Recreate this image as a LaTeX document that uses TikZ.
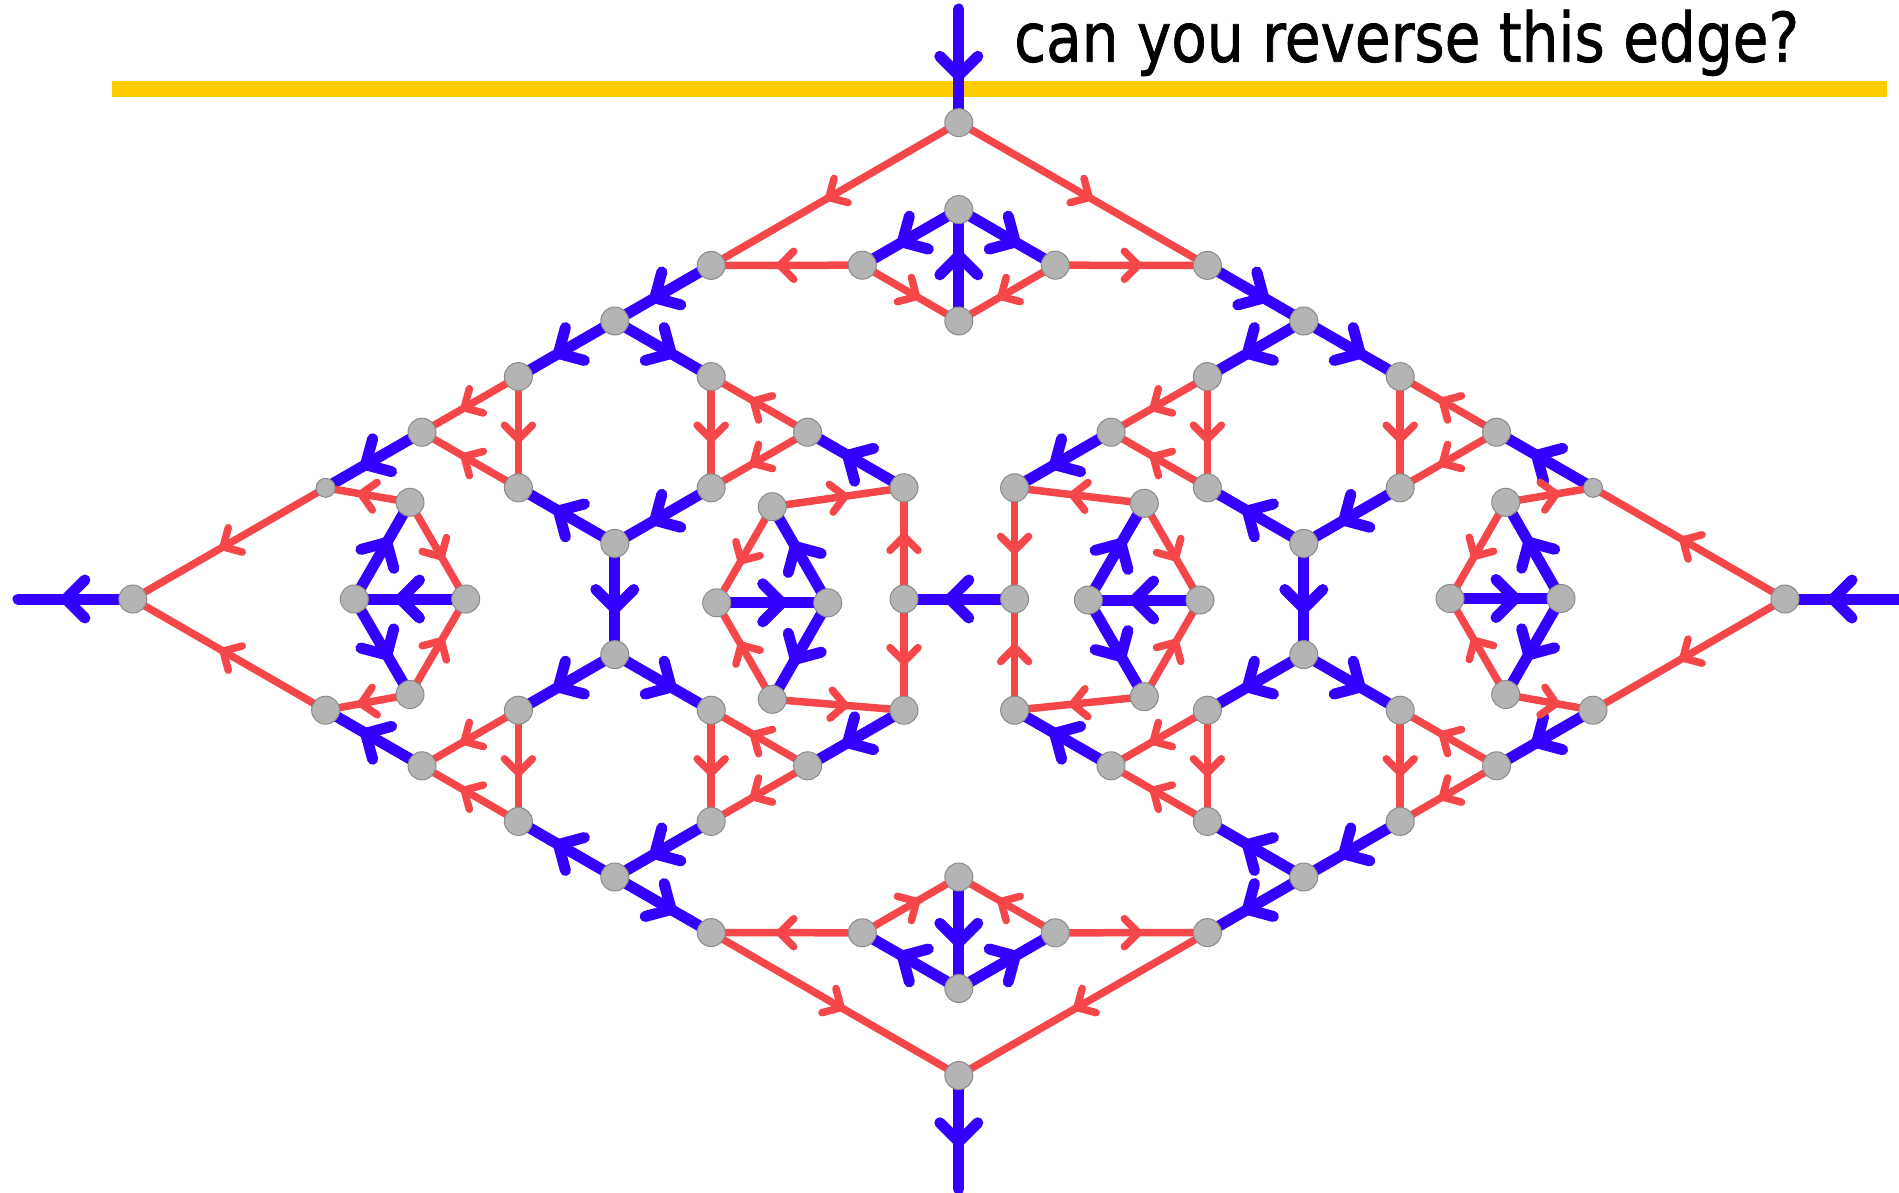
\documentclass[tikz,border=0pt]{standalone}
\usepackage{fontspec}
\usepackage{graphicx}
\newfontfamily\comicfont[FakeBold=1.2]{DejaVu Sans}
\usetikzlibrary{decorations.markings}
\pgfdeclarelayer{bg}
\pgfsetlayers{bg,main}
\definecolor{myblue}{RGB}{51,0,255}
\definecolor{myred}{RGB}{245,71,74}
\definecolor{baryellow}{RGB}{255,204,0}
\definecolor{nodegray}{RGB}{180,180,180}
\definecolor{nodeedge}{RGB}{138,138,138}
\tikzset{
  v/.style={circle, fill=nodegray, draw=nodeedge, line width=1pt, minimum size=28pt, inner sep=0pt},
  vs/.style={v, minimum size=19pt},
  be/.style={draw=myblue, line width=11pt, line cap=round, postaction={decorate},
    decoration={markings, mark=at position 0.5 with {\draw[myblue, line width=11pt, line cap=round, line join=round] (-9.5,19) -- (9.5,0) -- (-9.5,-19);}}},
  re/.style={draw=myred, line width=7.5pt, line cap=round, postaction={decorate},
    decoration={markings, mark=at position 0.5 with {\draw[myred, line width=7.5pt, line cap=round, line join=round] (-7,14) -- (7,0) -- (-7,-14);}}},
}
\begin{document}
\begin{tikzpicture}[x=1pt,y=-1pt]
\useasboundingbox (0,0) rectangle (1899,1192);
% ---- centre column ----
\node[v] (T0) at (958.8,122.6) {};
\node[v] (T1) at (958.8,209.6) {};
\node[v] (TL) at (862.3,265.2) {};
\node[v] (TR) at (1055.3,265.2) {};
\node[v] (TB) at (958.8,321) {};
\node[v] (QT) at (958.8,877) {};
\node[v] (QL) at (862.3,932.8) {};
\node[v] (QR) at (1055.3,932.8) {};
\node[v] (QB) at (958.8,988.5) {};
\node[v] (B0) at (958.8,1075.5) {};
\coordinate (eT) at (958.8,9);
\coordinate (eB) at (958.8,1189);
\coordinate (eL) at (18,599);
\coordinate (eR) at (1900,599);
% ---- left half ----
\node[v] (AL) at (711.2,265.4) {};
\node[v] (BL) at (614.8,321) {};
\node[v] (CL) at (711.2,376.6) {};
\node[v] (DL) at (807.6,432.2) {};
\node[v] (FL) at (904,487.8) {};
\node[v] (EL) at (711.2,487.8) {};
\node[v] (GL) at (614.8,543.4) {};
\node[v] (IL) at (518.4,376.6) {};
\node[v] (JL) at (422,432.2) {};
\node[v] (KL) at (518.4,487.8) {};
\node[vs] (SL) at (325.6,487.8) {};
\node[v] (OL) at (132.8,599) {};
\node[v] (F2) at (904,599) {};
\node[v] (ALp) at (711.2,932.6) {};
\node[v] (BLp) at (614.8,877) {};
\node[v] (CLp) at (711.2,821.4) {};
\node[v] (DLp) at (807.6,765.8) {};
\node[v] (FLp) at (904,710.2) {};
\node[v] (ELp) at (711.2,710.2) {};
\node[v] (GLp) at (614.8,654.6) {};
\node[v] (ILp) at (518.4,821.4) {};
\node[v] (JLp) at (422,765.8) {};
\node[v] (KLp) at (518.4,710.2) {};
\node[v] (SLp) at (325.6,710.2) {};
\node[v] (LT) at (410,502.3) {};
\node[v] (LLf) at (354.3,599) {};
\node[v] (LRt) at (465.7,599) {};
\node[v] (LB) at (410,694.5) {};
\node[v] (HT) at (772.3,506.7) {};
\node[v] (HL) at (716.7,602.8) {};
\node[v] (HR) at (827.7,602.8) {};
\node[v] (HB) at (772.3,699.3) {};
% ---- right half ----
\node[v] (AR) at (1207.4,265.4) {};
\node[v] (BR) at (1303.8,321) {};
\node[v] (CR) at (1207.4,376.6) {};
\node[v] (DR) at (1111,432.2) {};
\node[v] (FR) at (1014.6,487.8) {};
\node[v] (ER) at (1207.4,487.8) {};
\node[v] (GR) at (1303.8,543.4) {};
\node[v] (IR) at (1400.2,376.6) {};
\node[v] (JR) at (1496.6,432.2) {};
\node[v] (KR) at (1400.2,487.8) {};
\node[vs] (SR) at (1593,487.8) {};
\node[v] (OR) at (1785,599) {};
\node[v] (F2R) at (1014.6,599) {};
\node[v] (ARp) at (1207.4,932.6) {};
\node[v] (BRp) at (1303.8,877) {};
\node[v] (CRp) at (1207.4,821.4) {};
\node[v] (DRp) at (1111,765.8) {};
\node[v] (FRp) at (1014.6,710.2) {};
\node[v] (ERp) at (1207.4,710.2) {};
\node[v] (GRp) at (1303.8,654.6) {};
\node[v] (IRp) at (1400.2,821.4) {};
\node[v] (JRp) at (1496.6,765.8) {};
\node[v] (KRp) at (1400.2,710.2) {};
\node[v] (SRp) at (1593,710.2) {};
\node[v] (RT) at (1505.7,502.3) {};
\node[v] (RLf) at (1450,598.5) {};
\node[v] (RRt) at (1561,598.5) {};
\node[v] (RB) at (1505.7,694.5) {};
\node[v] (HTR) at (1144.3,503.3) {};
\node[v] (HLR) at (1088.3,600) {};
\node[v] (HRR) at (1200,600) {};
\node[v] (HBR) at (1144.3,696.7) {};
% ---- title ----
\node[anchor=base west, inner sep=0pt] (title) at (1014,61.7) {\resizebox{785pt}{52pt}{\comicfont can you reverse this edge?}};
\begin{pgfonlayer}{bg}
\fill[baryellow] (112,81) rectangle (1887,97);
% blue edges
\foreach \a/\b in {eT/T0,T1/TL,T1/TR,TB/T1,QT/QB,QB/QL,QB/QR,B0/eB,F2R/F2,OL/eL,eR/OR,
  AL/BL,BL/CL,BL/IL,FL/DL,EL/GL,JL/SL,GL/KL,GL/GLp,LLf/LT,LRt/LLf,HR/HT,HL/HR,
  LLf/LB,JLp/SLp,GLp/KLp,BLp/ILp,GLp/ELp,FLp/DLp,CLp/BLp,BLp/ALp,HR/HB,
  AR/BR,BR/CR,DR/FR,GR/ER,BR/IR,SR/JR,KR/GR,GR/GRp,RRt/RT,RLf/RRt,HLR/HTR,HRR/HLR,
  RRt/RB,SRp/JRp,GRp/KRp,IRp/BRp,GRp/ERp,DRp/FRp,BRp/CRp,BRp/ARp,HLR/HBR}
  \draw[be] (\a.center) -- (\b.center);
% red edges
\foreach \a/\b in {T0/AL,TL/AL,TL/TB,T0/AR,TR/AR,TR/TB,QL/QT,QR/QT,QL/ALp,ALp/B0,QR/ARp,ARp/B0,
  DL/CL,CL/EL,DL/EL,IL/JL,IL/KL,KL/JL,SL/OL,LT/SL,LT/LRt,HT/FL,HT/HL,F2/FL,
  SLp/OL,LB/SLp,LB/LRt,KLp/JLp,ILp/JLp,KLp/ILp,DLp/ELp,ELp/CLp,DLp/CLp,HB/HL,HB/FLp,F2/FLp,
  CR/DR,CR/ER,ER/DR,JR/IR,IR/KR,JR/KR,OR/SR,RT/SR,RT/RLf,HTR/FR,HTR/HRR,FR/F2R,
  OR/SRp,RB/SRp,RB/RLf,JRp/KRp,KRp/IRp,JRp/IRp,ERp/DRp,CRp/DRp,ERp/CRp,HBR/FRp,HBR/HRR,FRp/F2R}
  \draw[re] (\a.center) -- (\b.center);
\end{pgfonlayer}
\end{tikzpicture}
\end{document}
